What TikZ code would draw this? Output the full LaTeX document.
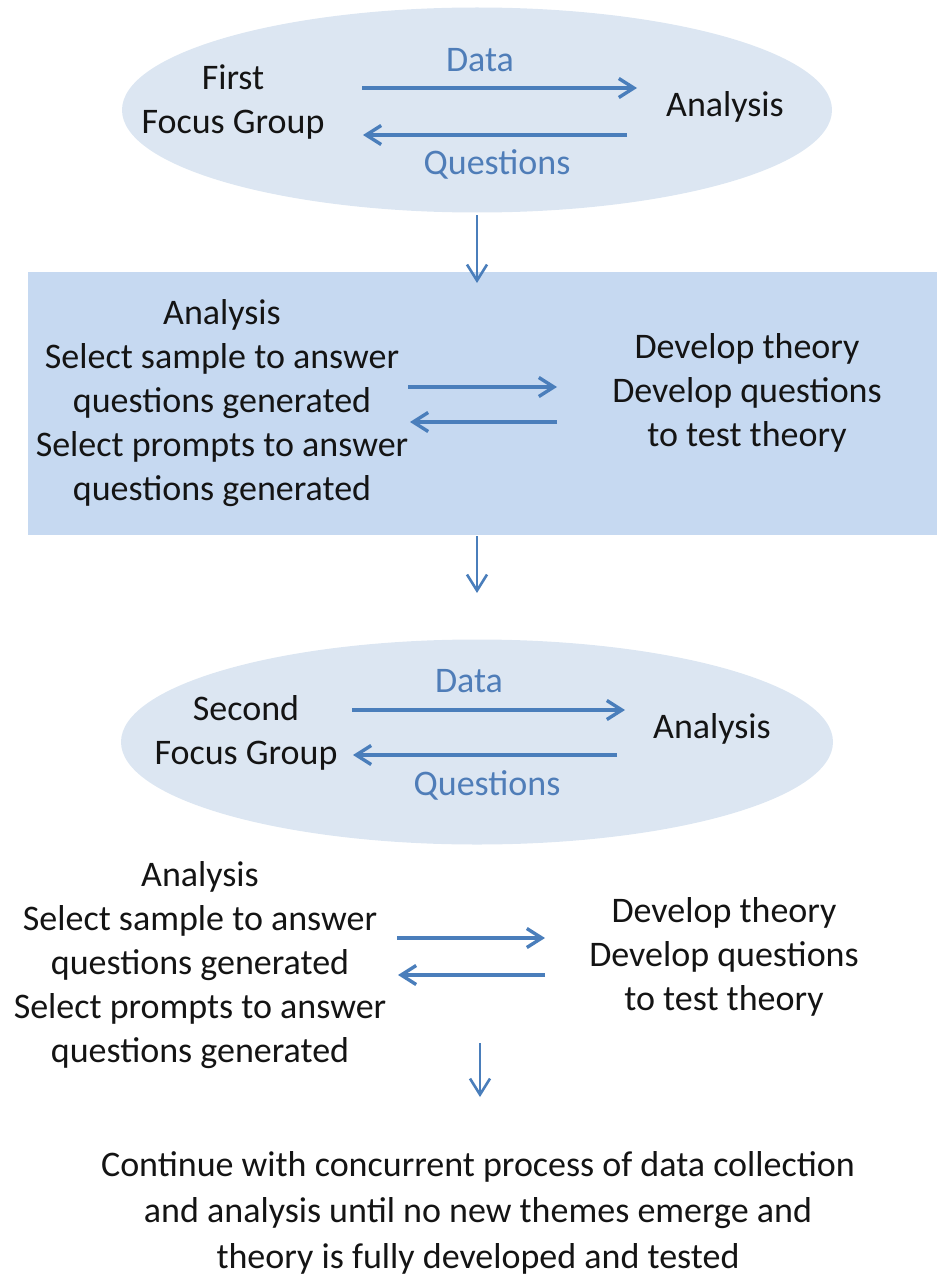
\documentclass[tikz,border=0pt]{standalone}
\usepackage{fontspec}
\setmainfont{Carlito}
\usetikzlibrary{shapes.geometric,arrows.meta}

\definecolor{ellfill}{HTML}{DCE6F2}
\definecolor{boxfill}{HTML}{C6D9F1}
\definecolor{arrowblue}{HTML}{4A7EBB}
\definecolor{labelblue}{HTML}{4F7DB8}
\definecolor{ink}{HTML}{141414}

% centred lines whose box baseline is the first line's baseline
\newcommand\linestack[1]{\vtop{\halign{\hfil##\hfil\cr#1\crcr}}}

\begin{document}
\begin{tikzpicture}[x=1pt,y=-1pt,
  txt/.style={font=\fontsize{36}{44}\selectfont, inner sep=0pt, anchor=base, text=ink},
  lbl/.style={txt, text=labelblue},
  blob/.style={ellipse, fill=ellfill, inner sep=0pt},
  flow/.style={draw=arrowblue, line width=3.4pt,
    -{Straight Barb[length=15pt,width=19pt]}},
  down/.style={draw=arrowblue, line width=2.6pt,
    -{Straight Barb[length=16pt,width=20pt]}},
]
\useasboundingbox (0,0) rectangle (937,1276);

% ---- first focus group cycle ----
\node[blob, minimum width=710pt, minimum height=205pt] (e1) at (477,110) {};
\node[txt] (fg1) at (233,90) {\linestack{First\cr Focus Group}};
\node[txt] (an1) at (725,117) {Analysis};
\node[lbl] (d1) at (480,72) {Data};
\node[lbl] (q1) at (497,175) {Questions};
\coordinate (d1s) at (362,88);  \coordinate (d1e) at (637,88);
\coordinate (q1s) at (627,135); \coordinate (q1e) at (363,135);
\draw[flow] (d1s) -- (d1e);
\draw[flow] (q1s) -- (q1e);

% ---- analysis band ----
\fill[boxfill] (28,272) rectangle (937,535);
\coordinate (box) at (482,272);
\coordinate (boxs) at (477,536);
\node[txt] (bl) at (222,324) {\linestack{Analysis\cr Select sample to answer\cr
  questions generated\cr Select prompts to answer\cr questions generated}};
\node[txt] (br) at (747,358) {\linestack{Develop theory\cr Develop questions\cr
  to test theory}};
\coordinate (b1s) at (408,387); \coordinate (b1e) at (557,387);
\coordinate (b2s) at (557,422); \coordinate (b2e) at (410,422);
\draw[flow] (b1s) -- (b1e);
\draw[flow] (b2s) -- (b2e);

\coordinate (a1s) at (477,215); \coordinate (a1e) at (477,283);
\draw[down] (a1s) -- (a1e);

% ---- second focus group cycle ----
\coordinate (a2e) at (477,593);
\draw[down] (boxs) -- (a2e);
\node[blob, minimum width=712pt, minimum height=205pt] (e2) at (477,742) {};
\node[txt] (fg2) at (246,720) {\linestack{Second\cr Focus Group}};
\node[txt] (an2) at (712,738) {Analysis};
\node[lbl] (d2) at (469,692) {Data};
\node[lbl] (q2) at (487,795) {Questions};
\coordinate (d2s) at (352,710); \coordinate (d2e) at (625,710);
\coordinate (q2s) at (617,755); \coordinate (q2e) at (353,755);
\draw[flow] (d2s) -- (d2e);
\draw[flow] (q2s) -- (q2e);

% ---- second analysis round ----
\node[txt] (bl2) at (200,886) {\linestack{Analysis\cr Select sample to answer\cr
  questions generated\cr Select prompts to answer\cr questions generated}};
\node[txt] (br2) at (724,922) {\linestack{Develop theory\cr Develop questions\cr
  to test theory}};
\coordinate (c1s) at (397,938); \coordinate (c1e) at (545,938);
\coordinate (c2s) at (545,975); \coordinate (c2e) at (398,975);
\draw[flow] (c1s) -- (c1e);
\draw[flow] (c2s) -- (c2e);

% ---- conclusion ----
\coordinate (a3s) at (480,1043); \coordinate (a3e) at (480,1097);
\draw[down] (a3s) -- (a3e);
\node[txt, font=\fontsize{36}{46}\selectfont] (fin) at (478,1176)
  {\linestack{Continue with concurrent process of data collection\cr
  and analysis until no new themes emerge and\cr
  theory is fully developed and tested}};
\end{tikzpicture}
\end{document}
